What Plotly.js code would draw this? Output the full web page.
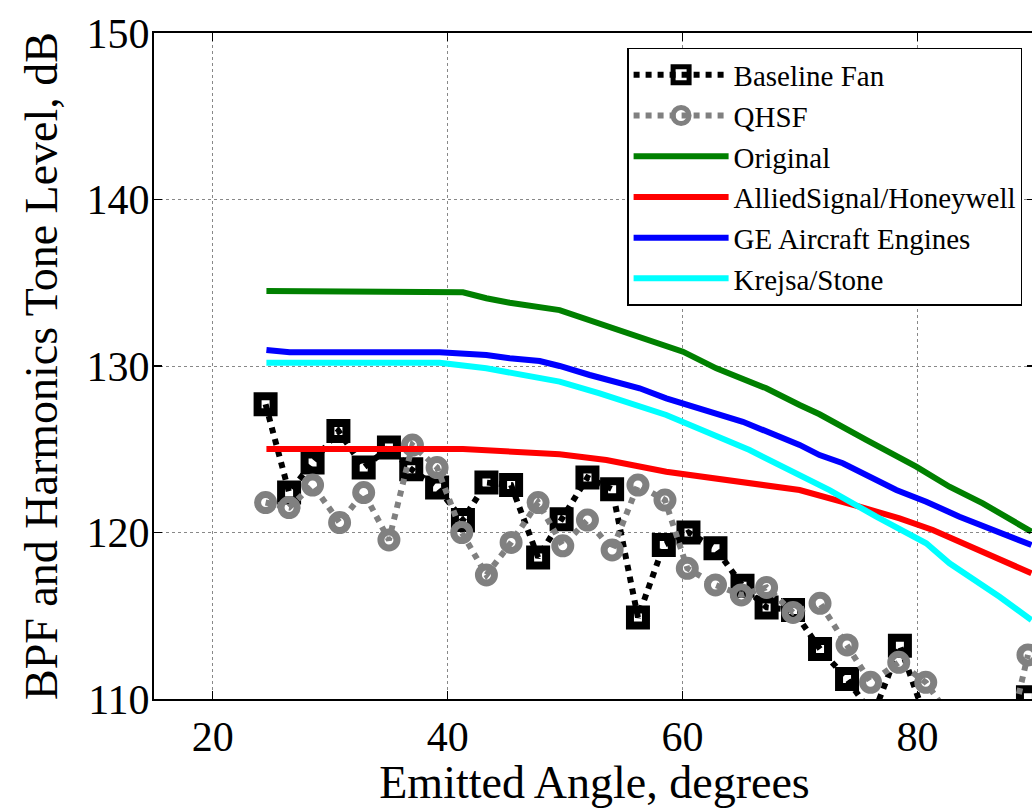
<!DOCTYPE html>
<html>
<head>
<meta charset="utf-8">
<script src="https://cdn.plot.ly/plotly-3.0.1.min.js"></script>
<style>
html,body{margin:0;padding:0;overflow:hidden;background:#fff;}
#chart{width:1040px;height:808px;}
</style>
</head>
<body>
<div id="chart"></div>
<script>
// ---- data ----
var baseAngle = [24.5, 26.5, 28.5, 30.7, 32.85, 35.0, 36.9, 39.1, 41.3, 43.3, 45.4, 47.7, 49.7, 51.9, 54.0, 56.2, 58.4, 60.5, 62.8, 65.1, 67.15, 69.4, 71.7, 74.0, 76.2, 78.5, 80.6, 82.7, 84.8, 87.0, 89.4];
var baseLevel = [127.7, 122.4, 124.2, 126.1, 123.9, 125.1, 123.8, 122.7, 120.75, 123.0, 122.85, 118.5, 120.8, 123.3, 122.6, 114.9, 119.25, 120.0, 119.05, 116.8, 115.5, 115.35, 113.0, 111.2, 109.0, 113.2, 109.0, 106.0, 105.5, 106.5, 110.1];

var qhsfAngle = [24.5, 26.5, 28.5, 30.8, 32.85, 35.0, 37.0, 39.1, 41.2, 43.3, 45.4, 47.7, 49.8, 51.9, 54.0, 56.2, 58.5, 60.4, 62.8, 65.0, 67.15, 69.4, 71.7, 74.0, 76.0, 78.4, 80.7, 82.9, 85.1, 87.2, 89.4];
var qhsfLevel = [121.8, 121.5, 122.85, 120.6, 122.4, 119.55, 125.25, 123.9, 120.0, 117.45, 119.4, 121.8, 119.2, 120.75, 118.95, 122.85, 121.95, 117.85, 116.85, 116.25, 116.7, 115.2, 115.75, 113.25, 111.0, 112.2, 111.0, 108.8, 107.0, 106.0, 112.65];

var origAngle = [24.57, 39.32, 41.30, 43.29, 45.28, 49.53, 52.94, 55.77, 58.61, 60.03, 62.87, 67.12, 69.96, 71.66, 75.63, 79.89, 82.72, 85.56, 89.70];
var origLevel = [134.50, 134.50, 134.43, 134.07, 133.80, 133.36, 132.56, 131.86, 131.26, 130.86, 129.86, 128.66, 127.66, 127.10, 125.56, 123.95, 122.75, 121.75, 120.05];

var alliedAngle = [24.57, 41.30, 49.53, 53.51, 58.61, 64.28, 69.96, 75.06, 78.47, 81.30, 84.99, 89.70];
var alliedLevel = [125.02, 125.02, 124.70, 124.35, 123.65, 123.11, 122.55, 121.55, 120.85, 120.15, 119.05, 117.55];

var geAngle = [24.57, 26.55, 39.32, 43.29, 45.28, 47.83, 49.53, 52.09, 56.34, 58.61, 65.13, 69.96, 71.66, 73.64, 78.19, 80.74, 83.57, 89.70];
var geLevel = [130.96, 130.82, 130.82, 130.66, 130.46, 130.30, 130.00, 129.46, 128.66, 128.06, 126.65, 125.26, 124.65, 124.16, 122.55, 121.85, 120.95, 119.25];

var krejsaAngle = [24.57, 39.32, 43.29, 49.53, 52.94, 56.34, 58.61, 65.70, 69.96, 72.51, 76.49, 80.74, 82.72, 86.98, 89.70];
var krejsaLevel = [130.20, 130.20, 129.86, 129.06, 128.36, 127.56, 127.06, 124.95, 123.45, 122.55, 120.95, 119.35, 118.15, 116.14, 114.74];

var xTicks = [20, 40, 60, 80];
var yTicks = [110, 120, 130, 140, 150];

// ---- traces ----
var traces = [
  {x: baseAngle, y: baseLevel, name: 'Baseline Fan', mode: 'lines+markers',
   line: {color: '#000000', width: 6, dash: 'dot'},
   marker: {symbol: 'square-open', size: 16, color: '#000000', line: {width: 8, color: '#000000'}}},
  {x: qhsfAngle, y: qhsfLevel, name: 'QHSF', mode: 'lines+markers',
   line: {color: '#808080', width: 6, dash: 'dot'},
   marker: {symbol: 'circle-open', size: 16, color: '#808080', line: {width: 7, color: '#808080'}}},
  {x: origAngle, y: origLevel, name: 'Original', mode: 'lines',
   line: {color: '#008000', width: 6}},
  {x: alliedAngle, y: alliedLevel, name: 'AlliedSignal/Honeywell', mode: 'lines',
   line: {color: '#ff0000', width: 6}},
  {x: geAngle, y: geLevel, name: 'GE Aircraft Engines', mode: 'lines',
   line: {color: '#0000ff', width: 6}},
  {x: krejsaAngle, y: krejsaLevel, name: 'Krejsa/Stone', mode: 'lines',
   line: {color: '#00ffff', width: 6}}
];

var font = '"Liberation Serif", "Times New Roman", Times, serif';

var layout = {
  width: 1040, height: 808,
  margin: {l: 154, r: 5, t: 33, b: 109, pad: 0},
  paper_bgcolor: '#ffffff', plot_bgcolor: '#ffffff',
  font: {family: font, color: '#000000'},
  showlegend: true,
  legend: {
    x: 0.537, y: 0.9775, xanchor: 'left', yanchor: 'top',
    bgcolor: '#ffffff', bordercolor: '#000000', borderwidth: 1.5,
    font: {family: font, size: 29, color: '#000000'},
    itemwidth: 95, tracegroupgap: 0
  },
  xaxis: {
    range: [15, 90], tickvals: xTicks, ticktext: xTicks.map(String),
    showgrid: true, gridcolor: '#888888', griddash: 'dot', gridwidth: 1,
    zeroline: false, showline: true, linecolor: '#000000', linewidth: 2,
    mirror: 'ticks', ticks: 'inside', ticklen: 8, tickcolor: '#000000', tickwidth: 1.5,
    tickfont: {family: font, size: 42, color: '#000000'},
    title: {text: 'Emitted Angle, degrees', font: {family: font, size: 46, color: '#000000'}, standoff: 4},
    automargin: false
  },
  yaxis: {
    range: [110, 150], tickvals: yTicks, ticktext: yTicks.map(String),
    showgrid: true, gridcolor: '#888888', griddash: 'dot', gridwidth: 1,
    zeroline: false, showline: true, linecolor: '#000000', linewidth: 2,
    mirror: 'ticks', ticks: 'inside', ticklen: 8, tickcolor: '#000000', tickwidth: 1.5,
    tickfont: {family: font, size: 42, color: '#000000'},
    ticklabelstandoff: -6,
    title: {text: 'BPF and Harmonics Tone Level, dB', font: {family: font, size: 46, color: '#000000'}, standoff: 14},
    automargin: false
  }
};

Plotly.newPlot('chart', traces, layout, {staticPlot: true, displayModeBar: false});
</script>
</body>
</html>
